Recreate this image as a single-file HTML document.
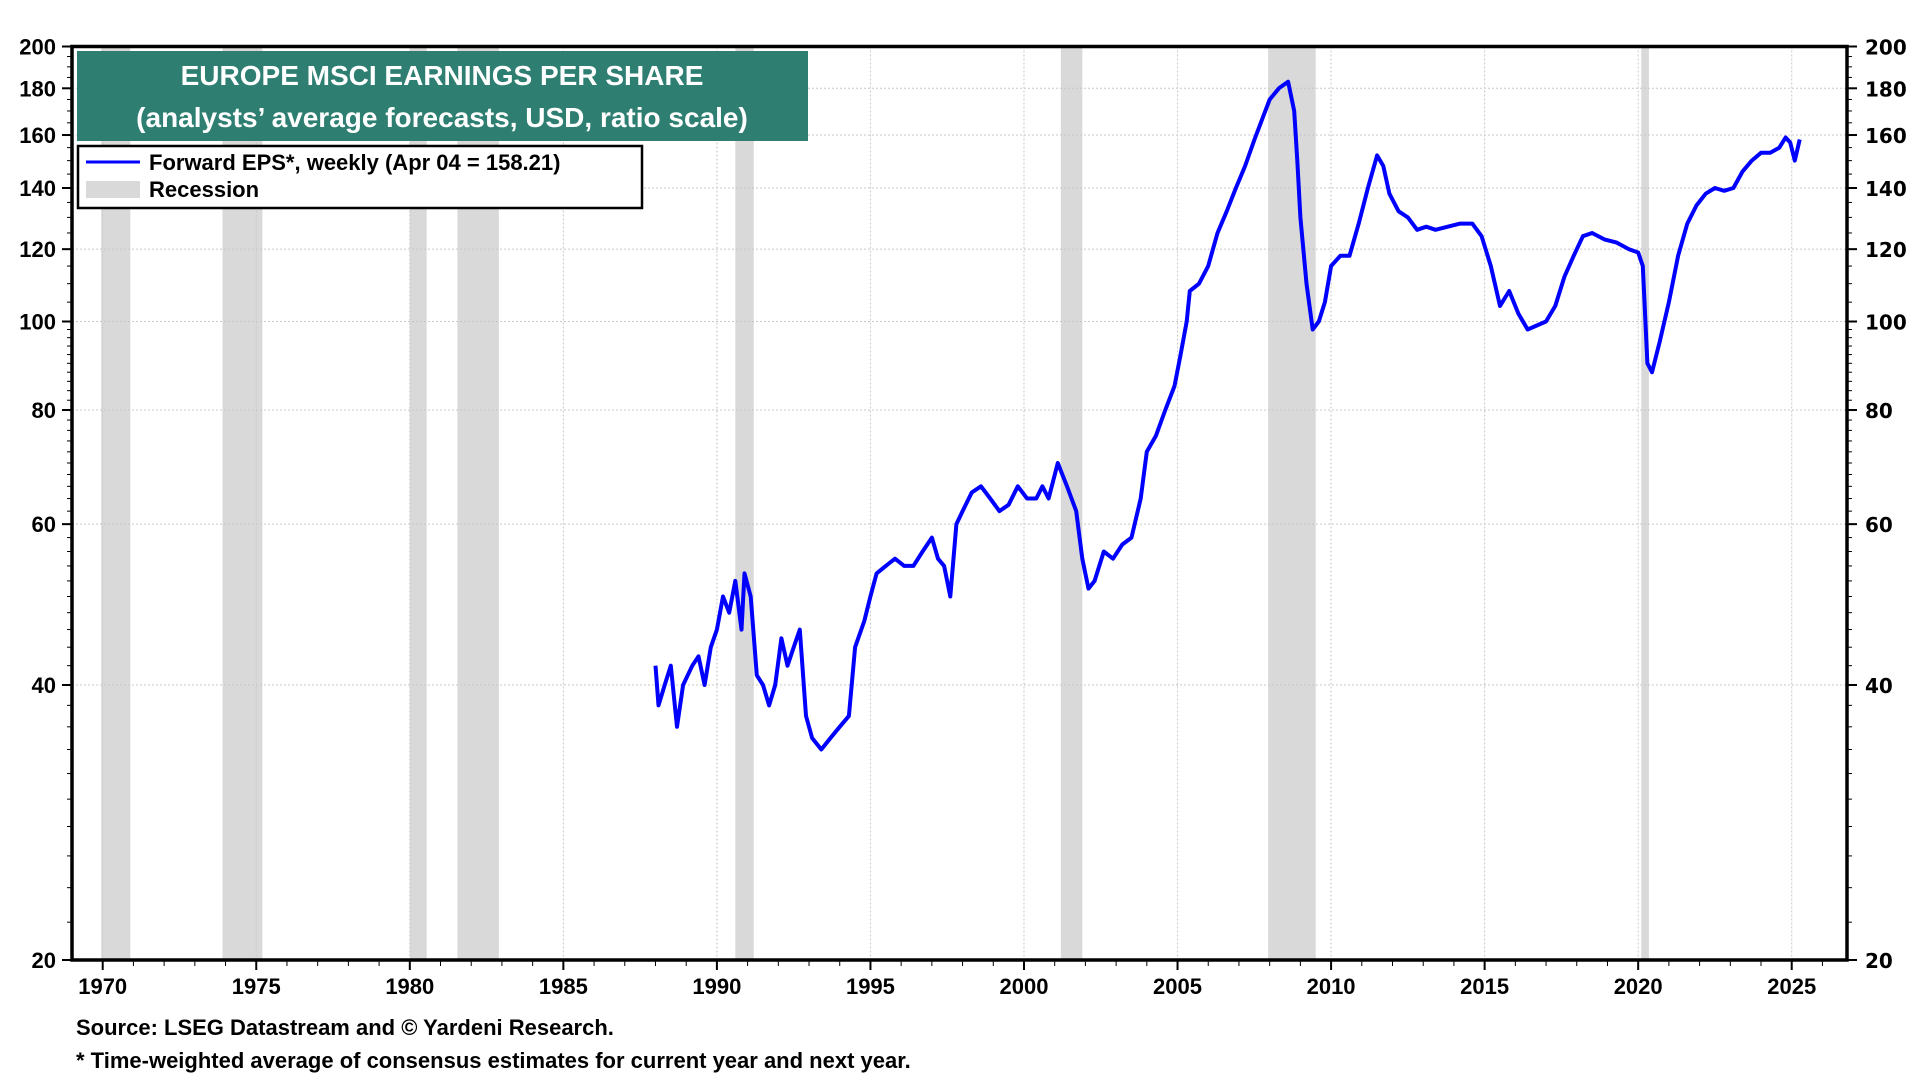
<!DOCTYPE html>
<html><head><meta charset="utf-8">
<style>
html,body{margin:0;padding:0;background:#fff;width:1920px;height:1080px;overflow:hidden}
svg{display:block}
.lab{font-family:"Liberation Sans Narrow","Liberation Sans",sans-serif;font-weight:bold}
.rlab{font-family:"DejaVu Sans","Liberation Sans",sans-serif;font-weight:bold}
</style></head><body>
<svg id="chart" width="1920" height="1080" xmlns="http://www.w3.org/2000/svg">
<g id="rec"></g>
<g id="grid"></g>
<g id="axes"></g>
<g id="series"></g>
<g>
<rect x="77" y="51" width="731" height="90" fill="#2e7f72"/>
<text x="442" y="85" text-anchor="middle" fill="#fff" font-size="28" class="lab">EUROPE MSCI EARNINGS PER SHARE</text>
<text x="442" y="127" text-anchor="middle" fill="#fff" font-size="28" class="lab">(analysts’ average forecasts, USD, ratio scale)</text>
</g>
<g>
<rect x="78" y="146" width="564" height="62" fill="#fff" stroke="#000" stroke-width="2.5"/>
<line x1="86" y1="162" x2="140" y2="162" stroke="#0000ff" stroke-width="3"/>
<text x="149" y="170" font-size="22" class="lab">Forward EPS*, weekly (Apr 04 = 158.21)</text>
<rect x="86" y="181" width="54" height="17" fill="#d9d9d9"/>
<text x="149" y="197" font-size="22" class="lab">Recession</text>
</g>
<text x="76" y="1035" font-size="22" class="lab">Source: LSEG Datastream and © Yardeni Research.</text>
<text x="76" y="1068" font-size="22" class="lab">* Time-weighted average of consensus estimates for current year and next year.</text>
</svg>
<script>
const recStart=[1969.95,1973.9,1980.0,1981.55,1990.6,2001.2,2007.95,2020.1];
const recEnd=[1970.9,1975.2,1980.55,1982.9,1991.2,2001.9,2009.5,2020.35];
const years=[1988.0,1988.1,1988.3,1988.5,1988.7,1988.9,1989.2,1989.4,1989.6,1989.8,1990.0,1990.2,1990.4,1990.6,1990.8,1990.9,1991.1,1991.3,1991.5,1991.7,1991.9,1992.1,1992.3,1992.5,1992.7,1992.9,1993.1,1993.4,1993.7,1994.0,1994.3,1994.5,1994.8,1995.0,1995.2,1995.5,1995.8,1996.1,1996.4,1996.7,1997.0,1997.2,1997.4,1997.6,1997.8,1998.0,1998.3,1998.6,1998.9,1999.2,1999.5,1999.8,2000.1,2000.4,2000.6,2000.8,2001.1,2001.4,2001.7,2001.9,2002.1,2002.3,2002.6,2002.9,2003.2,2003.5,2003.8,2004.0,2004.3,2004.6,2004.9,2005.1,2005.3,2005.4,2005.7,2006.0,2006.3,2006.6,2006.9,2007.2,2007.5,2007.8,2008.0,2008.3,2008.6,2008.8,2008.9,2009.0,2009.2,2009.4,2009.6,2009.8,2010.0,2010.3,2010.6,2010.9,2011.2,2011.5,2011.7,2011.9,2012.2,2012.5,2012.8,2013.1,2013.4,2013.8,2014.2,2014.6,2014.9,2015.2,2015.5,2015.8,2016.1,2016.4,2016.7,2017.0,2017.3,2017.6,2017.9,2018.2,2018.5,2018.9,2019.3,2019.7,2020.0,2020.15,2020.3,2020.45,2020.7,2021.0,2021.3,2021.6,2021.9,2022.2,2022.5,2022.8,2023.1,2023.4,2023.7,2024.0,2024.3,2024.6,2024.8,2024.95,2025.1,2025.26];
const eps=[42,38,40,42,36,40,42,43,40,44,46,50,48,52,46,53,50,41,40,38,40,45,42,44,46,37,35,34,35,36,37,44,47,50,53,54,55,54,54,56,58,55,54,50,60,62,65,66,64,62,63,66,64,64,66,64,70,66,62,55,51,52,56,55,57,58,64,72,75,80,85,92,100,108,110,115,125,132,140,148,158,168,175,180,183,170,150,130,110,98,100,105,115,118,118,128,140,152,148,138,132,130,126,127,126,127,128,128,124,115,104,108,102,98,99,100,104,112,118,124,125,123,122,120,119,115,90,88,95,105,118,128,134,138,140,139,140,146,150,153,153,155,159,157,150,158.21];
const yTicks=[20,40,60,80,100,120,140,160,180,200];
const xTicks=[1970,1975,1980,1985,1990,1995,2000,2005,2010,2015,2020,2025];

const L=72,R=1847,T=46.5,B=960,X0=1969.0,X1=2026.8;
const NS='http://www.w3.org/2000/svg';
function xs(v){return L+(v-X0)/(X1-X0)*(R-L);}
function ys(v){return B-(Math.log10(v)-Math.log10(20))/(Math.log10(200)-Math.log10(20))*(B-T);}
function mk(tag,attrs,parent){const e=document.createElementNS(NS,tag);for(const k in attrs)e.setAttribute(k,attrs[k]);parent.appendChild(e);return e;}
const rec=document.getElementById('rec'),grid=document.getElementById('grid'),axes=document.getElementById('axes'),ser=document.getElementById('series');
for(let i=0;i<recStart.length;i++){
  const r=mk('rect',{x:xs(recStart[i]),y:T,width:xs(recEnd[i])-xs(recStart[i]),height:B-T,fill:'#d9d9d9'},rec);
  
  
}
for(const v of yTicks){
  if(v!==20&&v!==200){const g=mk('line',{x1:L,x2:R,y1:ys(v),y2:ys(v),stroke:'#c8c8c8','stroke-width':1,'stroke-dasharray':'2,2'},grid);
  
  }
  const t1=mk('text',{x:L-16,y:ys(v)+8,'text-anchor':'end','font-size':22,class:'lab'},axes);t1.textContent=v;
  
  
  const t2=mk('text',{x:R+18,y:ys(v)+8,'text-anchor':'start','font-size':20,class:'rlab'},axes);t2.textContent=v;
  
  
  mk('line',{x1:L-10,x2:L,y1:ys(v),y2:ys(v),stroke:'#000','stroke-width':2},axes);
  mk('line',{x1:R,x2:R+10,y1:ys(v),y2:ys(v),stroke:'#000','stroke-width':2},axes);
}
for(let v=22;v<200;v+=(v<100?2:5)){
  if(yTicks.includes(v))continue;
  mk('line',{x1:L-5,x2:L,y1:ys(v),y2:ys(v),stroke:'#000','stroke-width':1},axes);
  mk('line',{x1:R,x2:R+5,y1:ys(v),y2:ys(v),stroke:'#000','stroke-width':1},axes);
}
for(const v of xTicks){
  const g=mk('line',{x1:xs(v),x2:xs(v),y1:T,y2:B,stroke:'#c8c8c8','stroke-width':1,'stroke-dasharray':'2,2'},grid);
  
  
  const t=mk('text',{x:xs(v),y:B+34,'text-anchor':'middle','font-size':22,class:'lab'},axes);t.textContent=v;
  
  
  mk('line',{x1:xs(v),x2:xs(v),y1:B,y2:B+10,stroke:'#000','stroke-width':2},axes);
}
for(let y=1970;y<=2026;y++){if(y%5)mk('line',{x1:xs(y),x2:xs(y),y1:B,y2:B+6,stroke:'#000','stroke-width':1},axes);}
mk('rect',{x:L,y:T,width:R-L,height:B-T,fill:'none',stroke:'#000','stroke-width':3.5},axes);
let d='';
for(let i=0;i<years.length;i++){d+=(i?'L':'M')+xs(years[i]).toFixed(1)+','+ys(eps[i]).toFixed(1);}
const p=mk('path',{d:d,fill:'none',stroke:'#0000ff','stroke-width':4,'stroke-linejoin':'round'},ser);


</script>
</body></html>
